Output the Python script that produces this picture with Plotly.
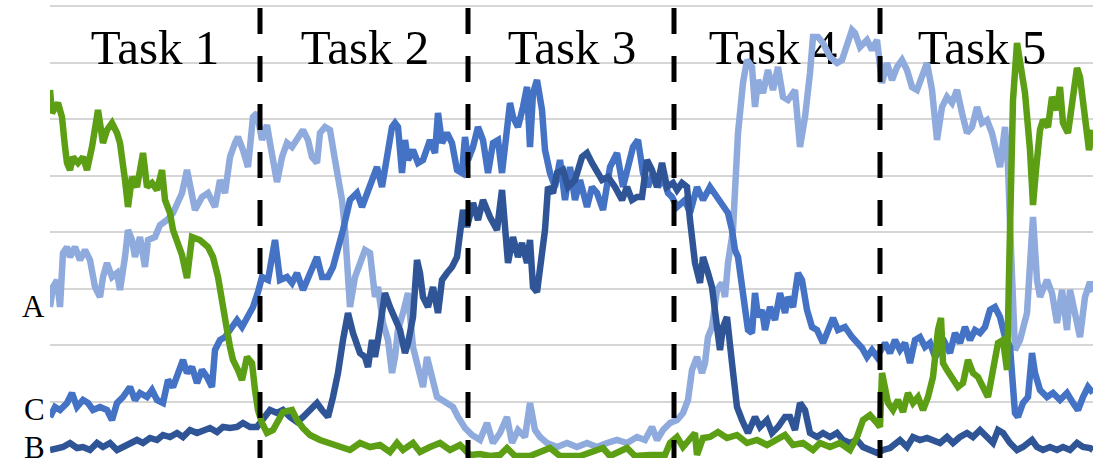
import plotly.graph_objects as go

# ---------------- data ----------------
task_names = ["Task 1", "Task 2", "Task 3", "Task 4", "Task 5"]
task_centers = [105, 315, 522, 723, 932]
task_label_level = 406
task_boundaries = [210, 418, 624, 830]

row_labels = ["A", "C", "B"]
row_label_levels = [152, 49, 11]

green_x = [0,2,8,12,15,17,20,23,28,33,37,42,48,53,57,62,67,70,75,78,
           82,87,93,97,102,107,112,115,120,123,132,137,142,150,158,163,168,172,175,177,
           180,183,188,192,197,202,205,208,212,217,223,228,233,242,247,253,260,270,280,290,
           300,310,320,330,340,347,353,363,370,380,390,400,410,420,430,440,450,457,465,480,
           500,510,530,553,560,577,585,600,615,620,627,633,640,645,647,653,660,668,677,687,
           697,707,717,727,735,743,753,763,770,780,790,800,807,813,820,827,830,832,835,838,
           843,848,853,858,863,868,873,878,883,888,891,893,897,902,908,913,918,923,928,933,
           938,943,948,953,957,960,963,967,970,975,980,983,986,990,993,998,1002,1007,1010,1013,
           1018,1022,1027,1030,1035,1039,1043]
green_y = [368,345,355,341,311,295,288,301,295,301,288,311,348,315,328,335,325,315,278,251,
           281,271,305,271,275,268,288,258,245,228,203,180,221,218,211,201,181,161,145,128,
           111,98,88,78,101,95,68,48,35,25,28,38,46,48,38,30,23,18,15,11,
           8,15,11,13,6,15,8,15,6,11,15,8,13,3,4,2,3,10,2,2,
           10,2,2,10,2,10,2,3,3,15,21,11,20,25,3,20,21,26,20,23,
           15,18,13,18,23,13,15,8,15,11,15,8,21,38,43,35,31,85,71,55,
           48,58,46,65,55,61,48,61,81,128,140,95,88,81,71,75,98,85,81,71,
           61,88,115,118,88,228,358,415,395,365,308,253,288,328,338,331,361,348,371,335,
           325,358,390,381,338,308,328]

light_x = [0,3,7,10,13,17,20,25,30,35,
           40,45,50,53,57,62,67,70,75,78,
           82,85,90,95,98,105,110,117,123,132,
           137,140,145,152,158,165,170,175,180,185,
           188,193,198,203,207,212,217,220,227,232,
           237,242,247,253,258,262,267,270,275,280,
           285,288,292,295,297,300,305,310,315,320,
           325,328,333,338,342,345,348,353,358,363,
           368,373,377,382,387,392,397,403,408,415,
           422,430,437,443,450,457,462,468,475,480,
           485,490,497,507,517,527,537,547,557,567,
           577,587,595,602,607,613,620,627,633,638,
           642,647,652,655,658,662,667,672,675,678,
           683,688,693,697,702,705,708,713,718,723,
           728,733,738,745,750,755,760,763,768,773,
           780,787,792,797,802,805,810,817,822,827,
           832,837,842,847,852,857,862,867,872,877,
           882,887,892,897,902,907,912,917,922,927,
           932,937,942,947,950,955,958,961,965,970,
           977,983,987,990,997,1002,1007,1012,1017,1020,
           1025,1030,1035,1040,1043]
light_y = [151,171,178,151,205,211,201,211,198,208,
           198,171,161,181,195,181,185,168,201,228,
           218,201,221,191,218,221,233,238,245,265,
           288,271,248,261,265,251,278,265,301,315,
           321,308,291,341,345,318,333,315,276,301,
           315,311,318,328,318,301,295,325,331,328,
           298,281,258,228,195,151,181,195,208,205,
           161,171,135,118,85,101,128,145,165,111,
           88,71,101,81,61,58,55,51,41,30,
           23,18,35,15,25,41,15,28,21,55,
           28,21,15,11,15,11,15,11,15,18,
           15,21,18,31,18,28,35,38,45,58,
           88,101,85,95,121,131,168,175,161,195,
           228,325,375,398,391,351,378,365,388,368,
           391,361,358,368,311,341,385,421,421,415,
           401,395,398,411,428,425,411,418,408,418,
           375,395,378,391,398,388,371,368,381,395,
           368,318,351,361,355,368,345,325,331,351,
           335,338,325,301,291,331,291,208,108,118,
           145,241,178,161,178,165,135,168,128,168,
           141,121,161,176,166]

mid_x = [0,5,10,17,22,27,33,38,43,50,
         57,62,67,73,80,85,90,97,102,107,
         113,118,123,128,133,137,142,147,152,157,
         162,165,170,175,180,187,192,197,203,208,
         212,218,225,230,237,242,247,253,260,267,
         272,278,283,288,293,300,307,312,317,322,
         327,332,337,342,345,348,352,355,358,363,
         368,373,380,385,388,392,397,402,407,412,
         415,418,423,428,433,438,443,448,452,457,
         460,463,468,473,477,480,483,487,492,495,
         500,505,510,515,520,525,530,537,542,547,
         553,560,567,573,578,583,588,593,598,603,
         608,613,618,622,627,635,640,647,653,660,
         667,673,678,682,685,688,693,698,702,705,
         708,712,715,720,725,730,735,738,743,748,
         752,757,762,767,773,778,783,788,795,802,
         807,812,817,822,827,832,835,840,845,850,
         855,860,865,870,875,880,885,890,895,900,
         905,910,915,920,925,930,935,940,945,950,
         955,960,963,965,968,973,978,982,985,990,
         997,1003,1010,1017,1023,1028,1033,1038,1043]
mid_y = [41,51,48,55,65,51,58,55,48,51,
         48,38,55,61,71,58,65,61,68,58,
         55,78,71,85,98,85,91,75,88,81,
         71,108,118,121,128,138,131,141,151,166,
         181,178,218,178,181,175,185,168,185,201,
         181,181,191,208,228,258,265,251,265,281,
         291,271,301,331,335,331,285,318,298,308,
         295,298,318,305,345,315,325,315,288,285,
         321,298,311,331,318,285,315,318,285,325,
         355,341,331,351,371,311,365,378,348,308,
         285,271,298,258,291,258,278,251,271,265,
         248,291,305,271,291,311,318,285,271,285,
         271,281,265,261,251,258,245,271,258,271,
         261,251,245,228,208,201,161,128,125,165,
         141,148,128,151,138,165,145,161,151,185,
         178,148,131,128,115,128,140,128,131,121,
         115,110,101,108,101,111,115,105,118,108,
         115,95,118,121,111,115,101,108,115,105,
         125,115,131,118,128,125,131,148,151,141,
         121,111,78,45,41,55,61,105,85,68,
         61,65,58,65,55,48,61,71,65]

dark_x = [0,7,13,20,27,33,40,47,53,60,
          67,73,80,87,93,100,107,113,120,127,
          133,140,147,153,160,167,173,180,187,193,
          200,207,213,220,227,233,240,247,253,260,
          267,272,278,283,288,293,298,303,310,315,
          318,322,325,328,332,335,340,345,350,355,
          358,363,367,370,373,378,383,388,392,397,
          402,407,413,417,423,428,433,440,447,452,
          455,458,463,468,472,477,480,483,487,492,
          495,498,503,507,513,518,525,532,537,542,
          547,552,558,565,572,577,582,587,592,597,
          602,607,612,617,623,627,632,637,640,645,
          650,653,658,662,667,670,673,677,682,687,
          692,698,705,710,717,722,728,735,740,745,
          750,755,760,767,773,780,787,793,800,807,
          813,820,827,833,840,850,857,863,870,877,
          883,890,897,903,910,917,923,930,937,943,
          948,953,960,967,973,982,987,993,1000,1007,
          1013,1020,1027,1033,1040,1043]
dark_y = [8,10,11,15,10,11,8,15,11,15,
          8,11,15,18,15,20,18,23,21,25,
          21,28,25,28,30,26,31,30,31,35,
          31,31,38,48,45,48,41,36,41,48,
          55,48,41,61,85,118,145,125,105,101,
          91,118,101,118,148,165,151,138,128,105,
          115,141,198,185,161,151,171,145,178,185,
          191,201,248,231,255,238,258,241,228,268,
          223,195,221,201,215,195,218,171,166,208,
          228,271,265,285,288,271,278,301,305,295,
          285,278,281,271,258,271,258,261,261,298,
          288,271,295,271,275,268,275,271,238,195,
          175,201,185,171,131,108,131,141,95,51,
          38,25,41,31,38,25,31,41,41,28,
          55,48,25,21,25,21,25,18,15,18,
          11,8,5,8,10,18,11,21,18,20,
          18,15,21,15,21,25,21,28,21,15,
          28,25,15,8,11,18,11,8,11,8,
          11,8,15,11,10,8]

# ---------------- styles ----------------
C_LIGHT = "#8FAADC"
C_MID = "#4472C4"
C_DARK = "#2F5597"
C_GREEN = "#5C9E14"
SERIF = "Liberation Serif, Times New Roman, serif"

fig = go.Figure()

# task titles first so the curves are drawn over them
fig.add_trace(go.Scatter(
    x=task_centers, y=[task_label_level] * len(task_centers),
    mode="text", text=task_names, textposition="middle center",
    textfont=dict(family=SERIF, size=49, color="#000000"),
    hoverinfo="skip", showlegend=False))

for xs, ys, col in [(light_x, light_y, C_LIGHT),
                    (mid_x, mid_y, C_MID),
                    (dark_x, dark_y, C_DARK),
                    (green_x, green_y, C_GREEN)]:
    fig.add_trace(go.Scatter(x=xs, y=ys, mode="lines",
                             line=dict(color=col, width=6.5),
                             hoverinfo="skip", showlegend=False))

shapes = []
for b in task_boundaries:
    shapes.append(dict(type="line", xref="x", yref="y",
                       x0=b, x1=b, y0=450, y1=-5,
                       line=dict(color="#000000", width=5, dash="26px,22px"),
                       layer="above"))

annotations = []
for lab, lev in zip(row_labels, row_label_levels):
    annotations.append(dict(text=lab, xref="paper", yref="y", x=0, y=lev,
                            xanchor="right", yanchor="middle", xshift=-3,
                            showarrow=False,
                            font=dict(family=SERIF, size=31, color="#000000")))

fig.update_layout(
    width=1112, height=460,
    margin=dict(l=50, r=19, t=3, b=2),
    paper_bgcolor="white", plot_bgcolor="white",
    shapes=shapes, annotations=annotations,
    showlegend=False,
    xaxis=dict(range=[0, 1043], showgrid=False, zeroline=False,
               showticklabels=False, showline=False, ticks=""),
    yaxis=dict(range=[0, 455], tick0=0, dtick=56.5, showgrid=True,
               gridcolor="#D6D6D6", gridwidth=1.5, zeroline=False,
               showticklabels=False, showline=False, ticks=""),
)

fig.write_html("out.html",
               config={"displayModeBar": False},
               post_script="document.body.style.margin='0';document.body.style.padding='0';")
